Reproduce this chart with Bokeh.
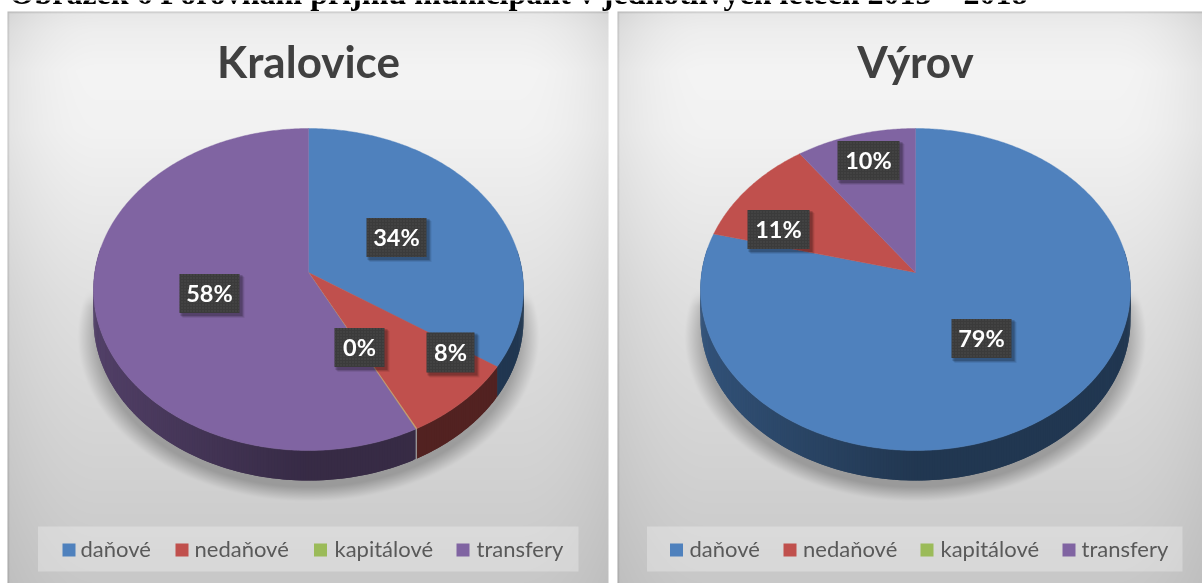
import numpy as np
from bokeh.plotting import figure
from bokeh.models import Range1d, ColumnDataSource
from bokeh.core.properties import value
from bokeh.embed import file_html
from bokeh.resources import INLINE

# ---- data ----
heading = "Obrázek 6 Porovnání příjmů municipalit v jednotlivých letech 2013 – 2018"
categories = ["daňové", "nedaňové", "kapitálové", "transfery"]
chart_titles = ["Kralovice", "Výrov"]
kralovice_values = [34.4, 8.0, 0.1, 57.5]
vyrov_values = [79.0, 11.0, 0.0, 10.0]
kralovice_labels = ["34%", "8%", "0%", "58%"]
vyrov_labels = ["79%", "11%", "10%"]
colors = ["#4F81BD", "#C0504D", "#C9A06A", "#8064A2"]
legend_colors = ["#4F81BD", "#C0504D", "#9BBB59", "#8064A2"]

# ---- layout ----
W, H = 1202, 583
kralovice_label_xy = [(396, 237), (450, 352), (359, 347), (209, 293)]
vyrov_label_xy = [(981, 338), (778, 229), (868, 160)]
label_sizes = [(60, 39), (48, 40), (50, 39), (60, 39)]
vyrov_label_sizes = [(60, 39), (62, 39), (62, 39)]
legend_boxes = [(37.5, 578), (646.5, 1182)]
legend_swatches = [[62, 175, 313.5, 456], [669.5, 783, 920, 1062]]
legend_texts = [[80, 194, 334, 476], [689, 802.5, 940, 1081]]
panels = [(7, 608), (617, 1203)]
pie_cx = [308, 915]
R, PC, PA, PB, DEPTH = 213.8, 0.1056, -130.5, 272.0, 30.0
BASE_SHIFT = 0.38  # svg text baseline compensation, in font sizes


def Y(y):
    return H - np.asarray(y, dtype=float)


def BY(y, size):
    return Y([y - BASE_SHIFT * size])


def project(theta, r=1.0):
    """Perspective mapping of a disc point, theta clockwise from top."""
    u, v = r * np.sin(theta), r * np.cos(theta)
    den = 1 + PC * v
    return R * u / den, (PB + PA * v) / den


def panel_image(x0, x1, cx):
    w, h = int(x1 - x0), H - 11
    xs = np.arange(w) + 0.5 + x0
    ys = np.arange(h) + 0.5 + 11
    X, Yy = np.meshgrid(xs, ys)
    base = np.interp(Yy, [11, 30, 70, 130, 300, 480, 583],
                     [232, 238, 244, 242, 224, 209, 200])
    t = np.clip(np.minimum(X - x0, x1 - X) / 90, 0, 1)
    edge = (1 - t) ** 2 * np.interp(Yy, [11, 130, 583], [18, 14, 9])
    g = base - edge
    d = np.sqrt(((X - cx) / 224) ** 2 + ((Yy - 336) / 160) ** 2)
    s = np.clip((1.03 - d) / 0.09, 0, 1) * np.clip((Yy - 290) / 16, 0, 1)
    g = g * (1 - 0.26 * s)
    # thin soft border
    bd = np.clip(1 - (Yy - 11) / 2.5, 0, 1) * 0.78
    bs = np.clip(1 - (X - x0) / 2.0, 0, 1) * 0.8
    g = g * (1 - 0.22 * np.maximum(bd, bs))
    g = np.clip(g, 0, 255).astype(np.uint32)[::-1]
    return (255 << 24) | (g << 16) | (g << 8) | g


def shade(c, f):
    r, g, b = int(c[1:3], 16), int(c[3:5], 16), int(c[5:7], 16)
    return "#%02x%02x%02x" % (int(r * f), int(g * f), int(b * f))


p = figure(width=W, height=H, x_range=Range1d(0, W), y_range=Range1d(0, H),
           toolbar_location=None, output_backend="svg", min_border=0,
           background_fill_color="white", border_fill_color="white",
           outline_line_color=None)
p.axis.visible = False
p.grid.visible = False
p.styles = {"position": "fixed", "left": "0px", "top": "0px"}

# panels
for (x0, x1), cx in zip(panels, pie_cx):
    p.image_rgba(image=[panel_image(x0, x1, cx)], x=x0, y=0, dw=x1 - x0, dh=H - 11)

# heading
p.text(x=[9], y=BY(5, 32), text=[heading], text_font=value("Liberation Serif"),
       text_font_style="bold", text_font_size="32px", text_color="black",
       text_baseline="alphabetic", text_align="left")


def draw_pie(cx, vals):
    total = sum(vals)
    ends = np.cumsum(vals) / total * 2 * np.pi
    starts = np.concatenate([[0], ends[:-1]])
    xs, ys, fc = [], [], []
    for a, b, c in zip(starts, ends, colors):
        if b - a < 0.02:
            continue
        grid = np.linspace(a, b, max(3, int((b - a) / 0.012)))
        for t0, t1 in zip(grid[:-1], grid[1:]):
            mid = 0.5 * (t0 + t1)
            if np.cos(mid) > 0.15:
                continue
            ax, ay = project(np.array([t0, min(t1 + 0.012, b)]))
            xs.append(list(cx + ax) + list(cx + ax[::-1]))
            ys.append(list(Y(ay)) + list(Y(ay[::-1] + DEPTH)))
            fc.append(shade(c, 0.43 - 0.22 * min(np.sin(mid), 0)))
    p.patches("xs", "ys", source=ColumnDataSource(dict(xs=xs, ys=ys, c=fc)),
              fill_color="c", line_color=None)
    for a, b, c in zip(starts, ends, colors):
        if b <= a:
            continue
        grid = np.linspace(a, b, max(3, int((b - a) / 0.01)))
        ax, ay = project(grid)
        p.patch(np.concatenate([[cx], cx + ax]), Y(np.concatenate([[PB], ay])),
                fill_color=c, line_color=c, line_width=0.4)


draw_pie(pie_cx[0], kralovice_values)
draw_pie(pie_cx[1], vyrov_values)


def draw_labels(texts, xy, sizes):
    for (x, y), (w, h), t in zip(xy, sizes, texts):
        for k, a in ((5, 0.08), (4, 0.12), (3, 0.18)):
            p.rect(x=[x + k - 1], y=Y([y + k - 1]), width=w + 2, height=h + 2,
                   fill_color="black", fill_alpha=a, line_color=None)
        p.rect(x=[x], y=Y([y]), width=w, height=h, fill_color="#3b3b3b", line_color=None,
               hatch_pattern="dot", hatch_color="#4c4c4c", hatch_scale=3, hatch_weight=1)
        p.text(x=[x], y=BY(y + 8, 23.5), text=[t], text_font=value("Lato"),
               text_font_style="bold", text_font_size="23.5px", text_color="white",
               text_align="center", text_baseline="alphabetic")


draw_labels(kralovice_labels, kralovice_label_xy, label_sizes)
draw_labels(vyrov_labels, vyrov_label_xy, vyrov_label_sizes)

# chart titles
for t, cx in zip(chart_titles, pie_cx):
    p.text(x=[cx], y=BY(77, 44), text=[t], text_font=value("Lato"), text_font_style="bold",
           text_font_size="44px", text_color="#404040", text_align="center",
           text_baseline="alphabetic")

# legends
for (bx0, bx1), sw, tx in zip(legend_boxes, legend_swatches, legend_texts):
    p.quad(left=[bx0], right=[bx1], top=Y([526]), bottom=Y([571]),
           fill_color="white", fill_alpha=0.28, line_color=None)
    for name, c, sx, x in zip(categories, legend_colors, sw, tx):
        p.quad(left=[sx], right=[sx + 13], top=Y([543]), bottom=Y([556]),
               fill_color=c, line_color=None)
        p.text(x=[x], y=BY(556, 22), text=[name], text_font=value("Lato"),
               text_font_size="22px", text_color="#595959", text_align="left",
               text_baseline="alphabetic")

open("out.html", "w").write(file_html(p, INLINE))
